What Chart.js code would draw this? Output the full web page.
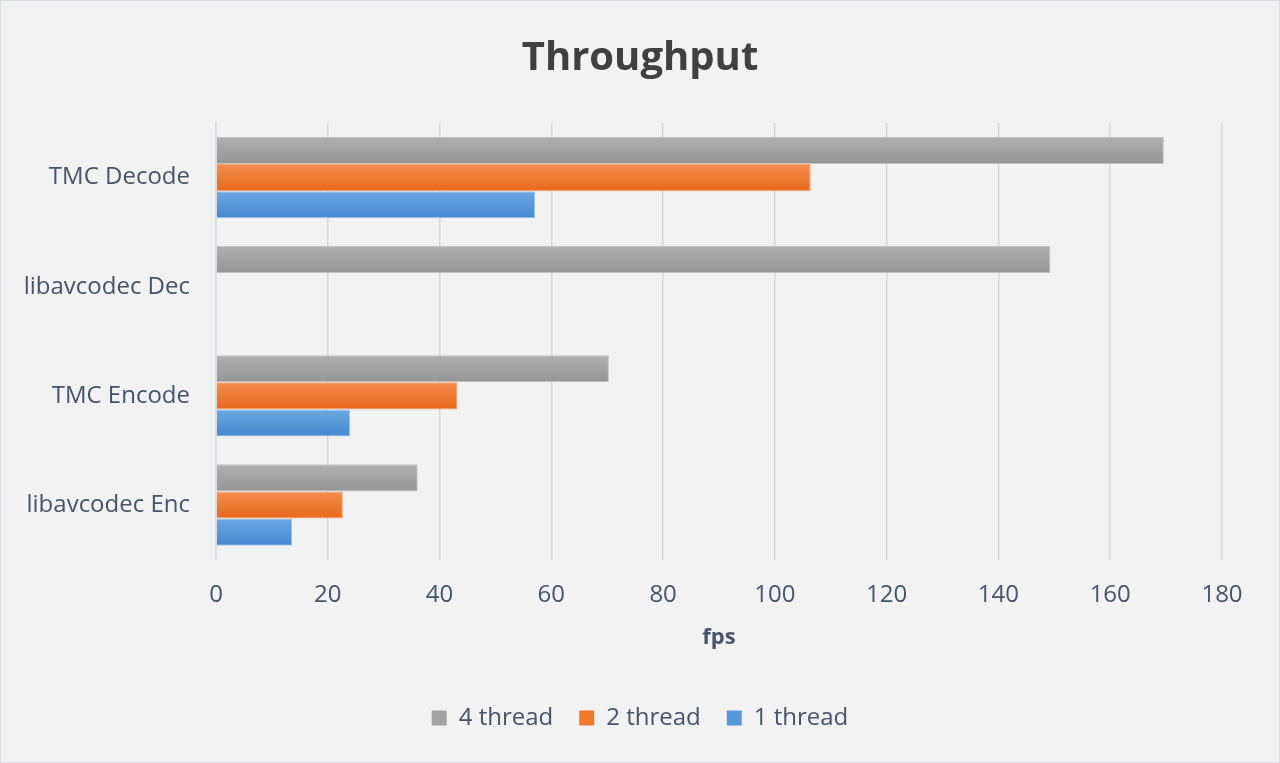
<!DOCTYPE html>
<html>
<head>
<meta charset="utf-8">
<script src="https://cdn.jsdelivr.net/npm/chart.js@4.4.1/dist/chart.umd.min.js"></script>
<style>
    html, body { margin: 0; padding: 0; background: #f2f2f2; }
    #wrap {
        width: 1280px; height: 763px; box-sizing: border-box;
        border: 1px solid #d9dde3; background: #f2f2f2;
    }
</style>
</head>
<body>
<div id="wrap"><canvas id="graphique"></canvas></div>
<script>
// donnees
const categories = ['TMC Decode', 'libavcodec Dec', 'TMC Encode', 'libavcodec Enc'];
const seriesNames = ['4 thread', '2 thread', '1 thread'];
const fourThread = [169.6, 149.3, 70.3, 36.1];
const twoThread = [106.4, null, 43.2, 22.7];
const oneThread = [57.1, null, 24.0, 13.6];
const xTicks = [0, 20, 40, 60, 80, 100, 120, 140, 160, 180];

const textColor = '#44546a';
const font = '"Open Sans", "DejaVu Sans", sans-serif';

// degrade vertical sur chaque barre
function degrade(haut, bas) {
    return function (context) {
        const el = context.element;
        if (!el || el.y === undefined || isNaN(el.y) || !el.height) {
            return bas;
        }
        const g = context.chart.ctx.createLinearGradient(0, el.y - el.height / 2, 0, el.y + el.height / 2);
        g.addColorStop(0, haut);
        g.addColorStop(1, bas);
        return g;
    };
}

const graph = document.getElementById('graphique');

const chart = new Chart(graph, {
    type: 'bar',
    data: {
        labels: categories,
        datasets: [{
            label: seriesNames[0],
            data: fourThread,
            backgroundColor: degrade('#b0b0b0', '#959595'),
            borderColor: '#c4c4c4',
            borderWidth: 1,
            legendColor: '#a3a3a3'
        }, {
            label: seriesNames[1],
            data: twoThread,
            backgroundColor: degrade('#f48d4f', '#e8681a'),
            borderColor: '#f7a571',
            borderWidth: 1,
            legendColor: '#f07a2c'
        }, {
            label: seriesNames[2],
            data: oneThread,
            backgroundColor: degrade('#6ba8e2', '#4488cf'),
            borderColor: '#9cc5ec',
            borderWidth: 1,
            legendColor: '#5699da'
        }]
    },
    options: {
        indexAxis: 'y',
        responsive: true,
        maintainAspectRatio: false,
        animation: false,
        categoryPercentage: 0.745,
        barPercentage: 1,
        layout: {
            padding: { left: 0, right: 0, top: 0, bottom: 22 }
        },
        plugins: {
            title: {
                display: true,
                text: 'Throughput',
                color: '#404040',
                font: { family: font, size: 40, weight: 'bold' },
                padding: { top: 34, bottom: 40 }
            },
            legend: {
                position: 'bottom',
                labels: {
                    color: textColor,
                    font: { family: font, size: 24 },
                    boxWidth: 15,
                    boxHeight: 15,
                    padding: 26,
                    generateLabels: function (c) {
                        return c.data.datasets.map((ds, i) => ({
                            text: ds.label,
                            fillStyle: ds.legendColor,
                            strokeStyle: ds.legendColor,
                            lineWidth: 0,
                            fontColor: textColor,
                            datasetIndex: i
                        }));
                    }
                }
            },
            tooltip: { enabled: false }
        },
        scales: {
            x: {
                min: 0,
                max: 180,
                afterBuildTicks: function (scale) {
                    scale.ticks = xTicks.map(v => ({ value: v }));
                },
                afterFit: function (scale) {
                    scale.paddingRight = 57;
                },
                grid: {
                    display: true,
                    drawTicks: false,
                    lineWidth: 1.5,
                    color: ctx => (ctx.tick && ctx.tick.value === 0) ? '#d6dce5' : '#d9d9d9'
                },
                border: { display: false },
                ticks: {
                    color: textColor,
                    font: { family: font, size: 24, lineHeight: 1.0 },
                    padding: 24
                },
                title: {
                    display: true,
                    text: 'fps',
                    color: textColor,
                    font: { family: font, size: 22, weight: 'bold' },
                    padding: { top: -7, bottom: 29 }
                }
            },
            y: {
                afterFit: function (scale) {
                    scale.width = 215;
                },
                grid: { display: false, drawTicks: false },
                border: { display: true, color: '#d6dce5', width: 1.5 },
                ticks: {
                    color: textColor,
                    font: { family: font, size: 24 },
                    padding: 26
                }
            }
        }
    }
});

// deuxieme passe pour que les degrades connaissent la position des barres
chart.update('none');
</script>
</body>
</html>
